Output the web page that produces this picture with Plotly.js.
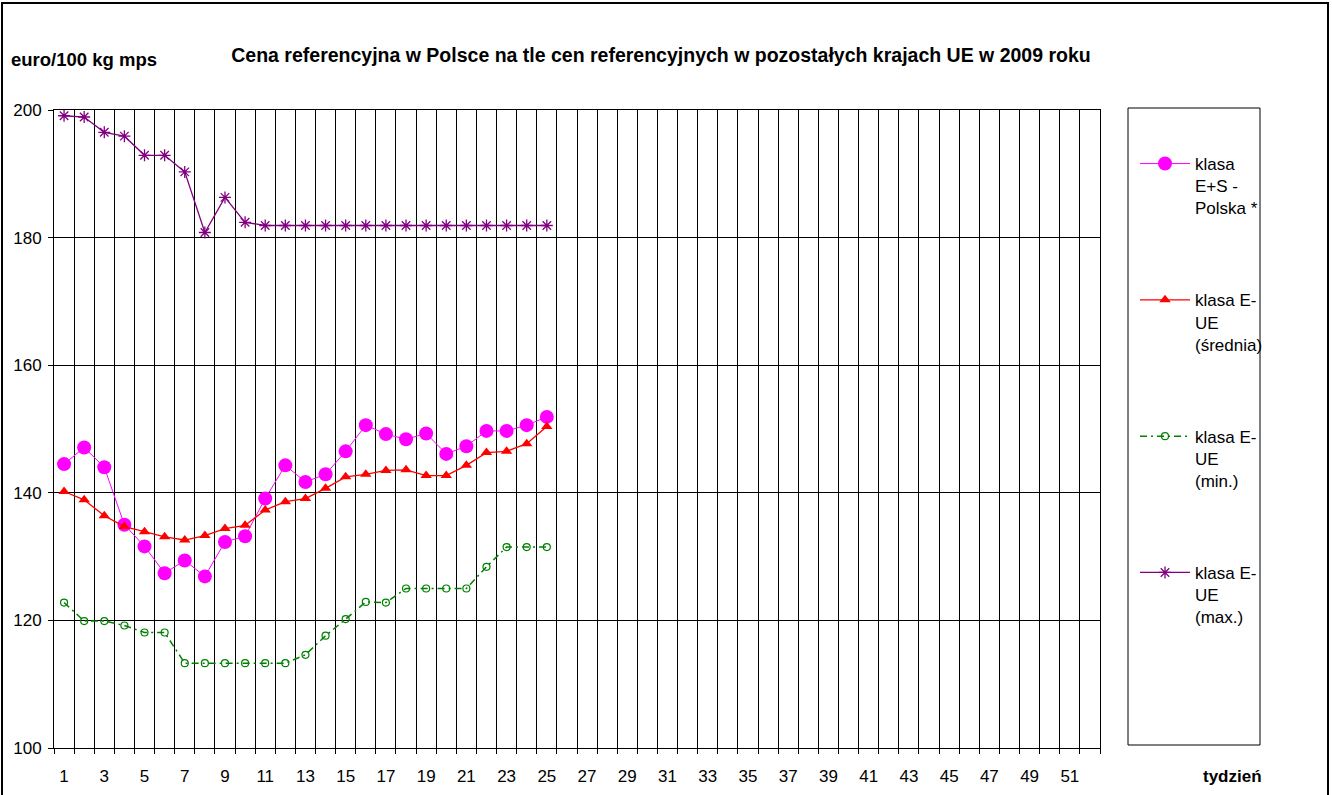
<!DOCTYPE html>
<html>
<head>
<meta charset="utf-8">
<script src="https://cdn.plot.ly/plotly-3.0.1.min.js"></script>
<style>html,body{margin:0;padding:0;background:#fff;}#chart{width:1332px;height:795px;}</style>
</head>
<body>
<div id="chart"></div>
<script>
const weeks = [1,2,3,4,5,6,7,8,9,10,11,12,13,14,15,16,17,18,19,20,21,22,23,24,25];
const polska = [144.5,147.1,144.0,135.0,131.6,127.4,129.4,126.9,132.3,133.2,139.1,144.3,141.7,142.9,146.5,150.6,149.2,148.4,149.3,146.1,147.3,149.7,149.7,150.6,151.9];
const ueSrednia = [140.2,138.9,136.4,134.7,133.9,133.1,132.6,133.3,134.4,134.9,137.3,138.6,139.1,140.7,142.5,142.9,143.5,143.6,142.7,142.7,144.3,146.3,146.5,147.7,150.4];
const ueMin = [122.8,119.9,119.9,119.2,118.1,118.1,113.3,113.3,113.3,113.3,113.3,113.3,114.6,117.6,120.2,122.9,122.8,125.0,125.0,125.0,125.0,128.4,131.5,131.5,131.5];
const ueMax = [199.1,198.9,196.5,195.9,192.9,192.9,190.3,180.8,186.3,182.4,181.9,181.9,181.9,181.9,181.9,181.9,181.9,181.9,181.9,181.9,181.9,181.9,181.9,181.9,181.9];
const seriesNames = ["klasa<br>E+S -<br>Polska *","klasa E-<br>UE<br>(średnia)","klasa E-<br>UE<br>(min.)","klasa E-<br>UE<br>(max.)"];
const xTickVals = [1,3,5,7,9,11,13,15,17,19,21,23,25,27,29,31,33,35,37,39,41,43,45,47,49,51];
const yTickVals = [100,120,140,160,180,200];

const L = 54, R = 1100, T = 110, B = 748;
const W = R - L, H = B - T;
const px = x => (x - L) / W;
const py = y => (B - y) / H;
const FAM = 'Liberation Sans, Arial, sans-serif';

const traces = [
  {x: weeks, y: polska, name: seriesNames[0], legendgroup: 'a', mode: 'lines+markers',
   line: {color: '#FF00FF', width: 1}, marker: {symbol: 'circle', size: 14, color: '#FF00FF'}},
  {x: weeks, y: ueSrednia, name: seriesNames[1], legendgroup: 'b', mode: 'lines+markers',
   line: {color: '#FF0000', width: 1.3}, marker: {symbol: 'triangle-up', size: 10, color: '#FF0000'}},
  {x: weeks, y: ueMin, name: seriesNames[2], legendgroup: 'c', mode: 'lines+markers',
   line: {color: '#008000', width: 1.5, dash: '7px,4px,2px,4px'}, marker: {symbol: 'circle-open', size: 7, color: '#008000', line: {width: 1.2}}},
  {x: weeks, y: ueMax, name: seriesNames[3], legendgroup: 'd', mode: 'lines+markers',
   line: {color: '#800080', width: 1.3}, marker: {symbol: 'asterisk-open', size: 10, color: '#800080', line: {width: 1.3, color: '#800080'}}}
];

const layout = {
  width: 1332, height: 795,
  margin: {l: L, r: 1332 - R, t: T, b: 795 - B, pad: 0},
  paper_bgcolor: '#fff', plot_bgcolor: '#fff',
  font: {family: FAM, size: 16, color: '#000'},
  showlegend: true,
  title: {text: 'Cena referencyjna w Polsce na tle cen referencyjnych w pozostałych krajach UE w 2009 roku',
          font: {size: 19.5, family: FAM, weight: 'bold', color: '#000'},
          x: px(661), xref: 'paper', xanchor: 'center', y: 1 - 55/795, yanchor: 'middle', yref: 'container'},
  xaxis: {
    range: [0.5, 52.5], tickmode: 'array', tickvals: xTickVals, showgrid: false, ticks: '',
    ticklabelstandoff: 13, zeroline: false,
    showline: true, linecolor: '#000', linewidth: 1, mirror: true,
    minor: {tickmode: 'linear', tick0: 0.5, dtick: 1, showgrid: true, gridcolor: '#000', gridwidth: 1,
            ticks: 'outside', ticklen: 5, tickcolor: '#000', tickwidth: 1},
    tickfont: {size: 17, family: FAM, color: '#000'}
  },
  yaxis: {
    range: [100, 200], tickmode: 'array', tickvals: yTickVals, showgrid: true, gridcolor: '#000', gridwidth: 1,
    ticks: 'outside', ticklen: 5, tickcolor: '#000', zeroline: false,
    showline: true, linecolor: '#000', linewidth: 1, mirror: true,
    tickfont: {size: 17, family: FAM, color: '#000'}, ticklabelstandoff: 3
  },
  legend: {
    x: px(1135), y: py(146), xanchor: 'left', yanchor: 'top',
    bgcolor: 'rgba(0,0,0,0)', borderwidth: 0, font: {size: 17},
    traceorder: 'grouped', tracegroupgap: 67, valign: 'top', itemwidth: 50
  },
  shapes: [
    {type: 'rect', xref: 'paper', yref: 'paper', x0: px(1128), x1: px(1260), y0: py(745), y1: py(108),
     line: {color: '#000', width: 1}, fillcolor: 'rgba(0,0,0,0)', layer: 'below'},
    {type: 'rect', xref: 'paper', yref: 'paper', x0: px(2), x1: px(1328), y0: py(800), y1: py(3),
     line: {color: '#000', width: 2}, fillcolor: 'rgba(0,0,0,0)'}
  ],
  annotations: [
    {text: '<b>euro/100 kg mps</b>', xref: 'paper', yref: 'paper', x: px(9), y: py(60),
     xanchor: 'left', yanchor: 'middle', showarrow: false, font: {size: 18.5}},
    {text: '<b>tydzień</b>', xref: 'paper', yref: 'paper', x: px(1264), y: py(776),
     xanchor: 'right', yanchor: 'middle', showarrow: false, font: {size: 17}}
  ]
};

Plotly.newPlot('chart', traces, layout, {displayModeBar: false, staticPlot: true});
</script>
</body>
</html>
